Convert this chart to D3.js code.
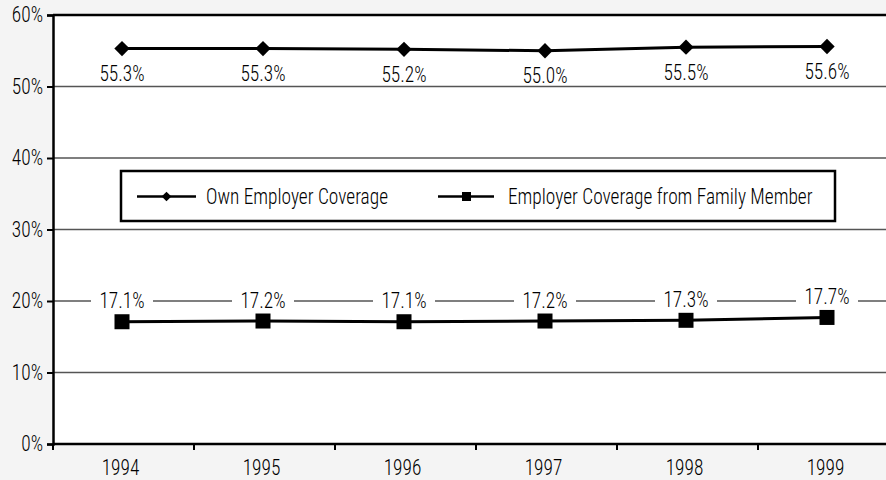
<!DOCTYPE html>
<html><head><meta charset="utf-8">
<script src="https://cdn.jsdelivr.net/npm/d3@7"></script>
<style>html,body{margin:0;padding:0;background:#f4f4f4;}svg{display:block;}</style>
</head><body><svg id="c" width="886" height="480"></svg>
<script>
const years = ["1994","1995","1996","1997","1998","1999"];
const ownEmployer = [55.3, 55.3, 55.2, 55.0, 55.5, 55.6];
const familyMember = [17.1, 17.2, 17.1, 17.2, 17.3, 17.7];
const yTicks = [0,10,20,30,40,50,60];
const seriesNames = ["Own Employer Coverage","Employer Coverage from Family Member"];

(function(){
const FONT = "'Roboto Condensed','Liberation Sans Narrow','Arial Narrow',sans-serif";
const FS = 21.5, SX = 0.9, FW = 300;
const svg = d3.select("#c");
const pLeft = 53, pTop = 15, pBottom = 444, step = 141;
const x = d3.scaleBand().domain(years).range([pLeft, pLeft + step*years.length]).paddingInner(0).paddingOuter(0);
const y = d3.scaleLinear().domain([0,60]).range([pBottom, pTop]);

function styleText(sel, size){
  sel.attr("font-family",FONT).attr("font-size",size||FS).attr("font-weight",FW).attr("fill","#000");
}
function putText(g, tx, ty, str, anchor, size){
  const t = g.append("text").attr("transform",`translate(${tx},${ty}) scale(${SX},1)`)
    .attr("dy","0.35em").attr("text-anchor",anchor||"middle").text(str);
  styleText(t, size);
  return t;
}

svg.append("rect").attr("x", pLeft).attr("y", pTop).attr("width", 886-pLeft).attr("height", pBottom-pTop).attr("fill", "#fff");

svg.append("g").selectAll("line").data(yTicks.filter(d=>d>0 && d<60)).join("line")
  .attr("x1", pLeft).attr("x2", 886).attr("y1", d=>y(d)).attr("y2", d=>y(d))
  .attr("stroke", "#555").attr("stroke-width", 1.5);
svg.append("line").attr("x1", pLeft).attr("x2", 886).attr("y1", y(60)).attr("y2", y(60)).attr("stroke","#000").attr("stroke-width",2.5);

const yAxis = d3.axisLeft(y).tickValues(yTicks).tickFormat(d=>d+"%").tickSize(6).tickPadding(4);
const gy = svg.append("g").attr("transform", `translate(${pLeft},0)`).call(yAxis);
gy.select(".domain").attr("stroke","#000").attr("stroke-width",2.5);
gy.selectAll(".tick line").attr("stroke","#000").attr("stroke-width",2);
gy.selectAll(".tick text").each(function(){
  const t = d3.select(this); const xx = +t.attr("x");
  t.attr("x", null).attr("transform",`translate(${xx},0) scale(${SX},1)`);
});
styleText(gy.selectAll(".tick text"));

const xAxis = d3.axisBottom(x).tickSize(0).tickPadding(16);
const gx = svg.append("g").attr("transform", `translate(-3,${pBottom})`).call(xAxis);
gx.select(".domain").remove();
gx.selectAll(".tick text").each(function(){
  const t = d3.select(this); const yy = +t.attr("y");
  t.attr("y", null).attr("transform",`translate(0,${yy}) scale(${SX},1)`);
});
styleText(gx.selectAll(".tick text"));
svg.append("line").attr("x1",pLeft).attr("x2",886).attr("y1",pBottom).attr("y2",pBottom).attr("stroke","#000").attr("stroke-width",2.5);
svg.append("g").selectAll("line").data(years).join("line")
  .attr("x1", d=>x(d)).attr("x2", d=>x(d)).attr("y1", pBottom).attr("y2", pBottom+6)
  .attr("stroke","#000").attr("stroke-width",2);

const cx = d => x(d) + x.bandwidth()/2 - 1.5;
const line = d3.line().x((d,i)=>cx(years[i])).y(d=>y(d));

svg.append("path").datum(ownEmployer).attr("d", line).attr("fill","none").attr("stroke","#000").attr("stroke-width",3);
svg.append("g").selectAll("path").data(ownEmployer).join("path")
  .attr("d", d3.symbol(d3.symbolDiamond2, 150)).attr("transform",(d,i)=>`translate(${cx(years[i])},${y(d)})`).attr("fill","#000");
const ol = svg.append("g");
ownEmployer.forEach((d,i)=>putText(ol, cx(years[i]), y(d)+25, d.toFixed(1)+"%"));

svg.append("path").datum(familyMember).attr("d", line).attr("fill","none").attr("stroke","#000").attr("stroke-width",3);
svg.append("g").selectAll("rect").data(familyMember).join("rect")
  .attr("x",(d,i)=>cx(years[i])-7.5).attr("y",d=>y(d)-7.5).attr("width",15).attr("height",15).attr("fill","#000");
const fl = svg.append("g");
familyMember.forEach((d,i)=>{
  const g = fl.append("g").attr("transform",`translate(${cx(years[i])},${y(d)-21})`);
  g.append("rect").attr("x",-31).attr("y",-11).attr("width",62).attr("height",22).attr("fill","#fff");
  putText(g, 0, 0, d.toFixed(1)+"%");
});

const lg = svg.append("g");
lg.append("rect").attr("x",121).attr("y",171).attr("width",714).attr("height",50).attr("fill","#fff").attr("stroke","#000").attr("stroke-width",2.5);
const ly = 196.5;
lg.append("line").attr("x1",137).attr("x2",196).attr("y1",ly).attr("y2",ly).attr("stroke","#000").attr("stroke-width",2.5);
lg.append("path").attr("d", d3.symbol(d3.symbolDiamond2, 60)).attr("transform",`translate(166.5,${ly})`).attr("fill","#000");
putText(lg, 206, ly, seriesNames[0], "start", 21.5);
lg.append("line").attr("x1",438).attr("x2",494).attr("y1",ly).attr("y2",ly).attr("stroke","#000").attr("stroke-width",2.5);
lg.append("rect").attr("x",462).attr("y",ly-4.5).attr("width",9).attr("height",9).attr("fill","#000");
putText(lg, 508, ly, seriesNames[1], "start", 21.5);
})();
</script></body></html>
